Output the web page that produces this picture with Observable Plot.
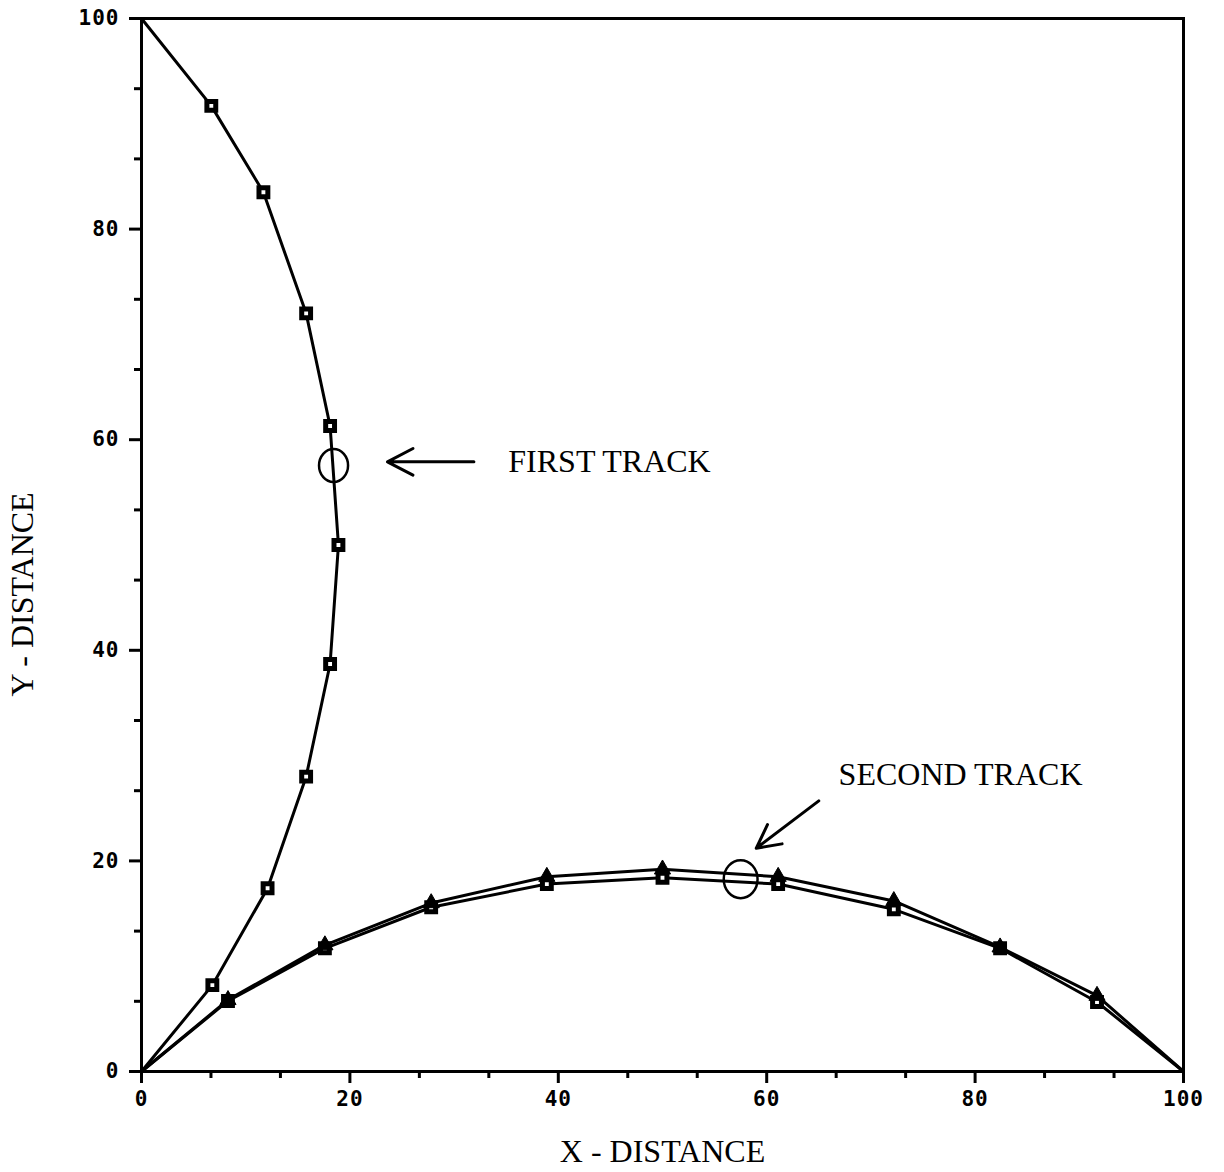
<!DOCTYPE html>
<html>
<head>
<meta charset="utf-8">
<script src="https://cdn.jsdelivr.net/npm/d3@7"></script>
<script src="https://cdn.jsdelivr.net/npm/@observablehq/plot@0.6"></script>
<style>
  html, body { margin: 0; padding: 0; background: #fff; }
  #chart svg { display: block; background: #fff; }
</style>
</head>
<body>
<div id="chart"></div>
<script>
// ---- data ----
const firstX  = [0, 6.7, 11.7, 15.8, 18.1, 18.9, 18.1, 15.8, 12.1, 6.8, 0];
const firstY  = [100, 91.7, 83.5, 72.0, 61.3, 50.0, 38.7, 28.0, 17.4, 8.2, 0];

const secondX    = [0, 8.3, 17.6, 27.8, 38.9, 50.0, 61.1, 72.2, 82.4, 91.7, 100];
const secondSqY  = [0, 6.7, 11.7, 15.6, 17.8, 18.4, 17.8, 15.4, 11.7, 6.6, 0];
const secondTriY = [0, 6.8, 12.0, 16.0, 18.5, 19.2, 18.5, 16.2, 11.8, 7.2, 0];

const majorTicks = [0, 20, 40, 60, 80, 100];
const minorTicks = [6.667, 13.333, 26.667, 33.333, 46.667, 53.333, 66.667, 73.333, 86.667, 93.333];

const labelTexts = ["FIRST TRACK", "SECOND TRACK"];
const labelX = [35.2, 66.9];
const labelY = [57.9, 28.2];

const arrowX1 = [31.9, 65.0];
const arrowY1 = [57.9, 25.7];
const arrowX2 = [23.6, 59.0];
const arrowY2 = [57.9, 21.2];

const ringX = [18.43, 57.5];
const ringY = [57.55, 18.26];

// ---- derived tables ----
const first = firstX.map((x, i) => ({x, y: firstY[i]}));
const secondSq = secondX.map((x, i) => ({x, y: secondSqY[i]}));
const secondTri = secondX.map((x, i) => ({x, y: secondTriY[i]}));
const interior = arr => arr.slice(1, -1);
const labels = labelTexts.map((t, i) => ({t, x: labelX[i], y: labelY[i]}));
const arrows = arrowX1.map((x1, i) => ({x1, y1: arrowY1[i], x2: arrowX2[i], y2: arrowY2[i]}));

function ellipseSymbol(ratio) {
  return {
    draw(ctx, size) {
      const r = Math.sqrt(size / Math.PI);
      const rx = r * ratio, ry = r, k = 0.5523;
      ctx.moveTo(rx, 0);
      ctx.bezierCurveTo(rx, ry * k, rx * k, ry, 0, ry);
      ctx.bezierCurveTo(-rx * k, ry, -rx, ry * k, -rx, 0);
      ctx.bezierCurveTo(-rx, -ry * k, -rx * k, -ry, 0, -ry);
      ctx.bezierCurveTo(rx * k, -ry, rx, -ry * k, rx, 0);
      ctx.closePath();
    }
  };
}

const tickFont = {fontFamily: "DejaVu Sans Mono", fontSize: 21, fontWeight: "bold"};
const serif = "Liberation Serif, Times New Roman, serif";

const chart = Plot.plot({
  width: 1224,
  height: 1172,
  marginLeft: 141,
  marginRight: 41,
  marginTop: 18,
  marginBottom: 101,
  style: {fontFamily: "DejaVu Sans Mono", fontSize: "21px", color: "black"},
  x: {domain: [0, 100]},
  y: {domain: [0, 100]},
  marks: [
    Plot.frame({stroke: "black", strokeWidth: 3}),
    Plot.axisX(majorTicks, {anchor: "bottom", tickSize: 12, tickPadding: 8, strokeWidth: 3, label: null, ...tickFont}),
    Plot.axisX(minorTicks, {anchor: "bottom", tickSize: 7, text: null, strokeWidth: 2.5, label: null}),
    Plot.axisY(majorTicks, {anchor: "left", tickSize: 12, tickPadding: 10, strokeWidth: 3, label: null, ...tickFont}),
    Plot.axisY(minorTicks, {anchor: "left", tickSize: 7, text: null, strokeWidth: 2.5, label: null}),
    Plot.text(["X - DISTANCE"], {frameAnchor: "bottom", dy: 90, fontFamily: serif, fontSize: 32, fill: "black"}),
    Plot.text(["Y - DISTANCE"], {x: 0, y: 45.3, dx: -119, rotate: -90, fontFamily: serif, fontSize: 32, fill: "black"}),

    // tracks
    Plot.line(first, {x: "x", y: "y", stroke: "black", strokeWidth: 3}),
    Plot.line(secondSq, {x: "x", y: "y", stroke: "black", strokeWidth: 3}),
    Plot.line(secondTri, {x: "x", y: "y", stroke: "black", strokeWidth: 3}),
    Plot.dot(interior(first), {x: "x", y: "y", symbol: "square", r: 5, fill: "white", stroke: "black", strokeWidth: 5}),
    Plot.dot(interior(secondSq), {x: "x", y: "y", symbol: "square", r: 5, fill: "white", stroke: "black", strokeWidth: 5}),
    Plot.dot(interior(secondTri), {x: "x", y: "y", symbol: "triangle", r: 6, fill: "black", stroke: "black", strokeWidth: 1}),

    // annotations
    Plot.dot([0], {x: () => ringX[0], y: () => ringY[0], symbol: ellipseSymbol(0.88), r: 16.5, fill: "none", stroke: "black", strokeWidth: 2.5}),
    Plot.dot([0], {x: () => ringX[1], y: () => ringY[1], symbol: ellipseSymbol(0.89), r: 19, fill: "none", stroke: "black", strokeWidth: 2.5}),
    Plot.arrow(arrows, {x1: "x1", y1: "y1", x2: "x2", y2: "y2", stroke: "black", strokeWidth: 3, headLength: 24, headAngle: 55}),
    Plot.text(labels, {x: "x", y: "y", text: "t", textAnchor: "start", lineAnchor: "middle", fontFamily: serif, fontSize: 32, fill: "black"})
  ]
});

// style axis ticks and tick labels
d3.select(chart).selectAll("g[aria-label]").each(function () {
  const lab = this.getAttribute("aria-label") || "";
  if (!/axis/.test(lab)) return;
  const g = d3.select(this);
  g.selectAll("line, path").style("stroke-width", "3px").style("stroke", "black");
  g.selectAll("text")
    .style("font-size", "21px")
    .style("font-weight", "bold")
    .style("font-family", "'DejaVu Sans Mono', monospace")
    .style("letter-spacing", "1px");
});

document.getElementById("chart").appendChild(chart);
</script>
</body>
</html>
